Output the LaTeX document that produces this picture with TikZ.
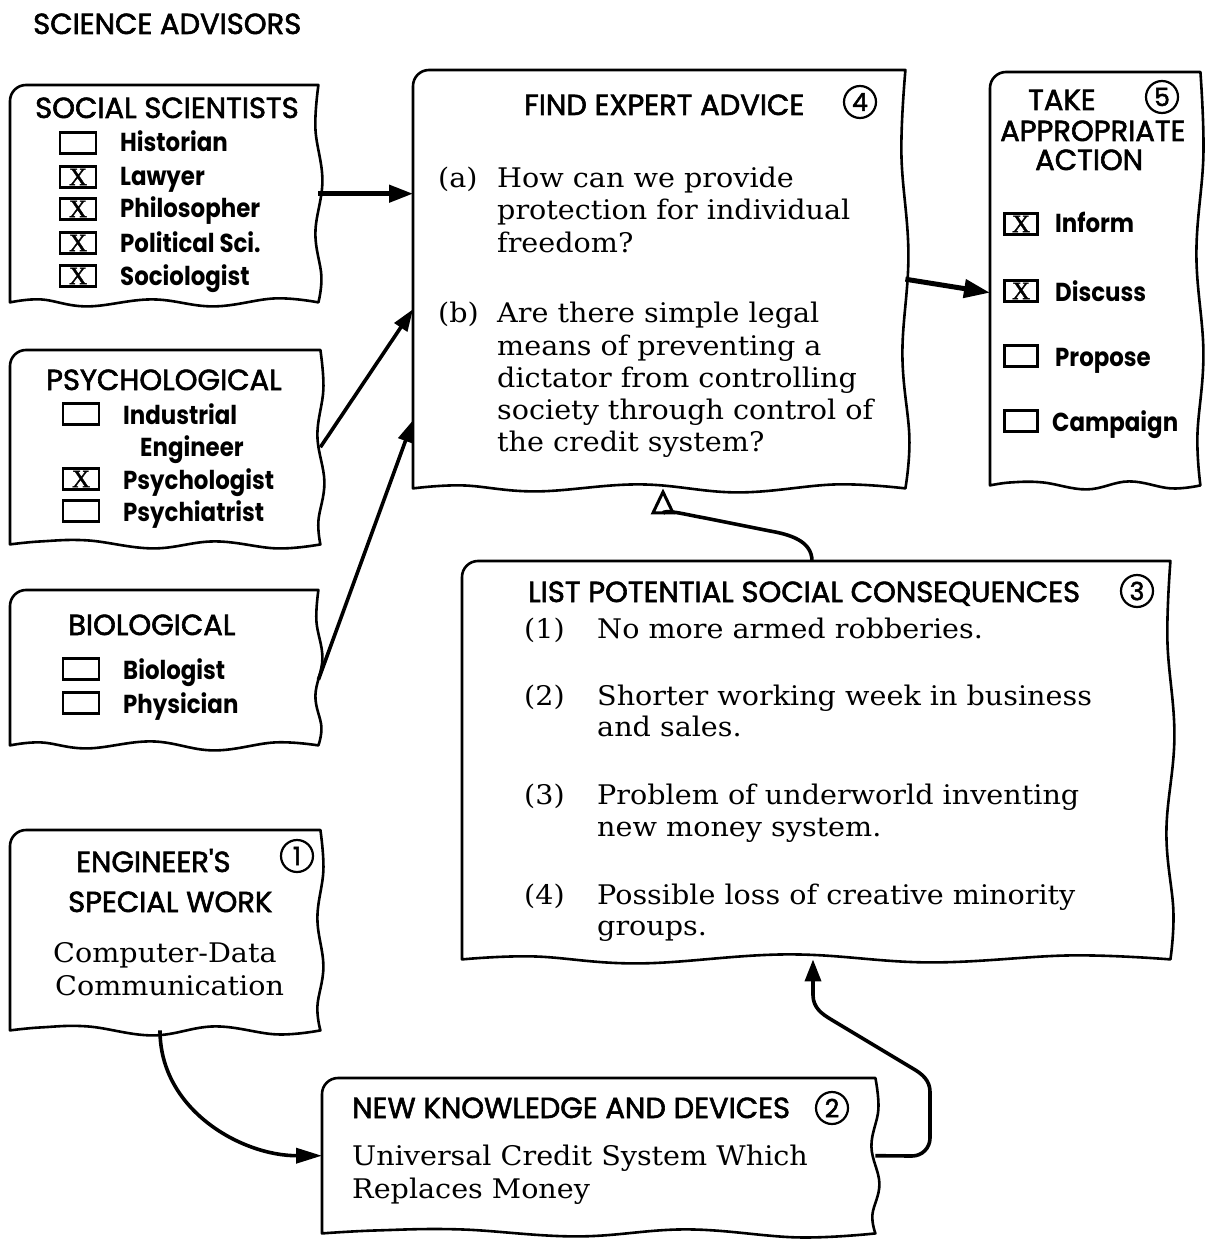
\documentclass[tikz,border=0pt]{standalone}
\usepackage{fontspec}
\setmainfont{DejaVu Serif}
\newfontfamily\hd[FakeBold=2]{Poppins}
\newfontfamily\itf[FakeStretch=0.88]{Poppins}
\newfontfamily\tw[FakeStretch=1.06]{DejaVu Serif}
\newfontfamily\xf[FakeBold=1.5]{Liberation Serif}
\usetikzlibrary{arrows.meta,calc}
\tikzset{
 area/.style={draw=none, rectangle, inner sep=0pt, anchor=north west},
 outline/.style={line width=2.6pt, line join=round, line cap=round},
 hdtext/.style={font=\hd\fontsize{29}{34}\selectfont, anchor=base west, inner sep=0pt},
 ittext/.style={font=\itf\bfseries\fontsize{26}{30}\selectfont, anchor=base west, inner sep=0pt},
 twtext/.style={font=\tw\fontsize{27}{32}\selectfont, anchor=base west, inner sep=0pt},
 cbox/.style={draw, line width=2.4pt, minimum width=36pt, minimum height=21pt, inner sep=0pt, font=\xf\fontsize{25}{25}\selectfont},
 num/.style={draw, circle, line width=2.2pt, minimum size=32pt, inner sep=0pt, font=\hd\fontsize{25}{25}\selectfont},
 conn/.style={line width=3.6pt},
}
% paper outline: straight left and top, rounded top-left corner, wavy right and bottom edges
\newcommand\paperbox[9]{%
 \draw[outline] (#1.south west) -- ([yshift=-16pt]#1.north west) arc[start angle=180, end angle=90, radius=16pt] -- (#1.north east)
 -- plot[smooth, tension=0.65] coordinates {(#1.north east)
   ($(#1.north east)!0.2!(#1.south east)+(#2pt,0)$)
   ($(#1.north east)!0.44!(#1.south east)+(#3pt,0)$)
   ($(#1.north east)!0.68!(#1.south east)+(#4pt,0)$)
   ($(#1.north east)!0.88!(#1.south east)+(#5pt,0)$)
   (#1.south east)}
 -- plot[smooth, tension=0.65] coordinates {(#1.south east)
   ($(#1.south east)!0.14!(#1.south west)+(0,#6pt)$)
   ($(#1.south east)!0.34!(#1.south west)+(0,#7pt)$)
   ($(#1.south east)!0.54!(#1.south west)+(0,#8pt)$)
   ($(#1.south east)!0.75!(#1.south west)+(0,#9pt)$)
   ($(#1.south east)!0.9!(#1.south west)+(0,3pt)$)
   (#1.south west)}
 -- cycle;}
\begin{document}
\begin{tikzpicture}[x=1pt,y=-1pt]
\useasboundingbox (0,0) rectangle (1207,1241);
% box areas
\node[area, minimum width=308pt, minimum height=217pt] (soc) at (10,85) {};
\node[area, minimum width=310pt, minimum height=194pt] (psy) at (10,350) {};
\node[area, minimum width=308pt, minimum height=155pt] (bio) at (10,590) {};
\node[area, minimum width=310pt, minimum height=200pt] (eng) at (10,830) {};
\node[area, minimum width=492pt, minimum height=418pt] (find) at (413,70) {};
\node[area, minimum width=210pt, minimum height=413pt] (take) at (990,72) {};
\node[area, minimum width=708pt, minimum height=398pt] (list) at (462,561) {};
\node[area, minimum width=553pt, minimum height=155pt] (new) at (322,1078) {};
\paperbox{soc}{-3}{4}{-3}{3}{4}{-4}{3}{-4}
\paperbox{psy}{3}{-3}{4}{-2}{-4}{3}{-4}{4}
\paperbox{bio}{-2}{4}{-3}{3}{3}{-5}{4}{-3}
\paperbox{eng}{3}{-3}{3}{-3}{-4}{4}{-5}{4}
\paperbox{find}{-4}{3}{-3}{4}{4}{-4}{4}{-3}
\paperbox{take}{3}{-4}{3}{-3}{-3}{4}{-4}{3}
\paperbox{list}{-3}{4}{-4}{3}{4}{-3}{5}{-4}
\paperbox{new}{3}{-4}{4}{-3}{-4}{4}{-3}{4}

\node[hdtext] (title) at (33,34) {SCIENCE ADVISORS};

% social scientists
\node[hdtext] (socT) at (35,118) {SOCIAL SCIENTISTS};
\node[cbox] (s1) at (78,143) {};
\node[cbox] (s2) at (78,177) {X};
\node[cbox] (s3) at (78,209) {X};
\node[cbox] (s4) at (78,243) {X};
\node[cbox] (s5) at (78,276) {X};
\node[ittext] (s1t) at (120,152) {Historian};
\node[ittext] (s2t) at (120,186) {Lawyer};
\node[ittext] (s3t) at (120,218) {Philosopher};
\node[ittext] (s4t) at (120,252) {Political Sci.};
\node[ittext] (s5t) at (120,285) {Sociologist};

% psychological
\node[hdtext] (psyT) at (46,390) {PSYCHOLOGICAL};
\node[cbox] (p1) at (81,414) {};
\node[cbox] (p2) at (81,479) {X};
\node[cbox] (p3) at (81,511) {};
\node[ittext] (p1t) at (123,424) {Industrial};
\node[ittext] (p1u) at (140,456) {Engineer};
\node[ittext] (p2t) at (123,489) {Psychologist};
\node[ittext] (p3t) at (123,521) {Psychiatrist};

% biological
\node[hdtext] (bioT) at (68,635) {BIOLOGICAL};
\node[cbox] (b1) at (81,669) {};
\node[cbox] (b2) at (81,703) {};
\node[ittext] (b1t) at (123,679) {Biologist};
\node[ittext] (b2t) at (123,713) {Physician};

% engineer
\node[hdtext] (engT) at (76,872) {ENGINEER'S};
\node[num] (n1) at (297,856) {1};
\node[hdtext] (engU) at (68,912) {SPECIAL WORK};
\node[twtext] (engA) at (53,962) {Computer-Data};
\node[twtext] (engB) at (55,995) {Communication};

% find expert advice
\node[hdtext] (findT) at (524,115) {FIND EXPERT ADVICE};
\node[num] (n4) at (860,102) {4};
\node[twtext] (fa) at (438,188) {(a)};
\node[twtext] (fa1) at (497,188) {How can we provide};
\node[twtext] (fa2) at (497,220) {protection for individual};
\node[twtext] (fa3) at (497,253) {freedom?};
\node[twtext] (fb) at (438,322) {(b)};
\node[twtext] (fb1) at (497,322) {Are there simple legal};
\node[twtext] (fb2) at (497,355) {means of preventing a};
\node[twtext] (fb3) at (497,387) {dictator from controlling};
\node[twtext] (fb4) at (497,419) {society through control of};
\node[twtext] (fb5) at (497,451) {the credit system?};

% take action
\node[hdtext] (takeT) at (1028,110) {TAKE};
\node[num] (n5) at (1162,97) {5};
\node[hdtext] (takeU) at (1000,141) {APPROPRIATE};
\node[hdtext] (takeV) at (1035,170) {ACTION};
\node[cbox, minimum width=33pt, minimum height=21pt] (t1) at (1021,224) {X};
\node[cbox, minimum width=33pt, minimum height=21pt] (t2) at (1021,291) {X};
\node[cbox, minimum width=33pt, minimum height=21pt] (t3) at (1021,356) {};
\node[cbox, minimum width=33pt, minimum height=21pt] (t4) at (1021,421) {};
\node[ittext] (t1t) at (1055,233) {Inform};
\node[ittext] (t2t) at (1055,301) {Discuss};
\node[ittext] (t3t) at (1055,366) {Propose};
\node[ittext] (t4t) at (1052,431) {Campaign};

% list consequences
\node[hdtext] (listT) at (528,602) {LIST POTENTIAL SOCIAL CONSEQUENCES};
\node[num] (n3) at (1137,591) {3};
\node[twtext] (l1) at (524,638) {(1)};
\node[twtext] (l1a) at (597,638) {No more armed robberies.};
\node[twtext] (l2) at (524,705) {(2)};
\node[twtext] (l2a) at (597,705) {Shorter working week in business};
\node[twtext] (l2b) at (597,736) {and sales.};
\node[twtext] (l3) at (524,804) {(3)};
\node[twtext] (l3a) at (597,804) {Problem of underworld inventing};
\node[twtext] (l3b) at (597,836) {new money system.};
\node[twtext] (l4) at (524,904) {(4)};
\node[twtext] (l4a) at (597,904) {Possible loss of creative minority};
\node[twtext] (l4b) at (597,935) {groups.};

% new knowledge
\node[hdtext] (newT) at (352,1118) {NEW KNOWLEDGE AND DEVICES};
\node[num] (n2) at (832,1108) {2};
\node[twtext] (newA) at (352,1165) {Universal Credit System Which};
\node[twtext] (newB) at (352,1198) {Replaces Money};

% connectors
\draw[conn, line width=4.5pt, -{Triangle[length=24pt,width=17pt]}] (soc.east) -- (soc.east -| find.west);
\draw[conn, -{Triangle[length=22pt,width=15pt]}] (psy.east) -- ([yshift=-30pt]find.west);
\draw[conn, -{Triangle[length=22pt,width=15pt]}] ([yshift=-12pt]bio.east) -- ([yshift=-141pt]find.west);
\draw[conn, line width=5pt, -{Triangle[length=26pt,width=18pt]}] (find.east) -- ([yshift=-14pt]take.west);
\draw[conn, -{Triangle[open,length=26pt,width=24pt,line width=3pt]}] ([xshift=350pt]list.north west) to[out=90,in=-10] (770,531) -- (705,518) to[out=170,in=-90] ([xshift=250pt]find.south west);
\draw[conn, -{Triangle[length=26pt,width=15pt]}] ([xshift=150pt]eng.south west) to[out=-90,in=180] (new.west);
\draw[conn, -{Triangle[length=22pt,width=16pt]}] (new.east) -- (912,1156) to[out=0,in=-90] (930,1138) -- (930,1092) to[out=90,in=-30] (912,1068) -- (832,1020) to[out=150,in=-90] (813,995) -- ([xshift=351pt]list.south west);
\end{tikzpicture}
\end{document}
